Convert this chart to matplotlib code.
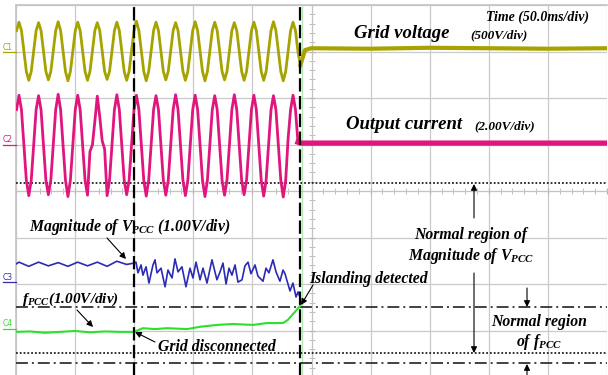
import numpy as np
import matplotlib.pyplot as plt
from matplotlib.lines import Line2D
from matplotlib.ticker import MultipleLocator

plt.rcParams['mathtext.fontset'] = 'custom'
for k in ('rm', 'it', 'bf'):
    plt.rcParams['mathtext.' + k] = 'Liberation Serif:bold:italic'

# screen: 10 div x 50 ms/div, 8 vertical div; trace values are in screen divisions
t_start, t_step = 0.47, 2.07   # ms, sample spacing of C1/C2 before islanding

# C1 grid voltage (500V/div)
grid_v = [
    3.45,
    3.63, 3.45, 3.01, 2.57, 2.38, 2.57, 3.01, 3.45,
    3.62, 3.45, 3.01, 2.57, 2.39, 2.57, 3.01, 3.45,
    3.64, 3.45, 3.01, 2.57, 2.37, 2.57, 3.01, 3.45,
    3.63, 3.45, 3.01, 2.57, 2.38, 2.57, 3.01, 3.45,
    3.62, 3.45, 3.01, 2.57, 2.40, 2.57, 3.01, 3.45,
    3.63, 3.45, 3.01, 2.57, 2.38, 2.57, 3.01, 3.45,
    3.65, 3.45, 3.01, 2.57, 2.37, 2.57, 3.01, 3.45,
    3.63, 3.45, 3.01, 2.57, 2.39, 2.57, 3.01, 3.45,
    3.62, 3.45, 3.01, 2.57, 2.38, 2.57, 3.01, 3.45,
    3.64, 3.45, 3.01, 2.57, 2.37, 2.57, 3.01, 3.45,
    3.63, 3.45, 3.01, 2.57, 2.39, 2.57, 3.01, 3.45,
    3.62, 3.45, 3.01, 2.57, 2.38, 2.57, 3.01, 3.45,
    3.63, 3.45, 3.01, 2.57, 2.38, 2.57, 3.01, 3.45,
    3.64, 3.45, 3.01, 2.57, 2.37, 2.57, 3.01, 3.45,
    3.63, 3.45, 3.00, 2.71,
]
grid_v_after_t = [244.5, 249.6, 300, 350, 400, 450, 500]
grid_v_after = [3.03, 3.07, 3.06, 3.08, 3.07, 3.06, 3.07]

# C2 output current (2.00V/div)
out_i = [
    1.75,
    2.06, 1.75, 0.99, 0.23, -0.10, 0.23, 0.99, 1.75,
    2.05, 1.75, 0.99, 0.23, -0.08, 0.23, 0.99, 1.75,
    2.08, 1.75, 0.99, 0.23, -0.12, 0.23, 0.99, 1.75,
    2.06, 1.75, 0.99, 0.23, -0.09, 0.85, 0.99, 1.50,
    2.04, 1.60, 1.08, 0.90, -0.10, 0.23, 0.99, 1.75,
    2.07, 1.75, 0.99, 0.23, -0.08, 0.23, 0.99, 1.75,
    2.06, 1.75, 0.99, 0.23, -0.11, 0.23, 0.99, 1.75,
    2.05, 1.75, 0.99, 0.23, -0.09, 0.23, 0.99, 1.75,
    2.07, 1.75, 0.99, 0.23, -0.10, 0.23, 0.99, 1.75,
    2.06, 1.75, 0.99, 0.23, -0.12, 0.23, 0.99, 1.75,
    2.05, 1.75, 0.99, 0.23, -0.09, 0.23, 0.99, 1.75,
    2.07, 1.75, 0.99, 0.23, -0.08, 0.23, 0.99, 1.75,
    2.06, 1.75, 0.99, 0.23, -0.11, 0.23, 0.99, 1.75,
    2.05, 1.75, 0.99, 0.23, -0.13, 0.23, 1.14, 1.75,
    2.06, 1.75, 1.05,
]
out_i_after_t = [240.6, 500]
out_i_after = [1.03, 1.03]

# C3 magnitude of Vpcc (1.00V/div)
vpcc_t = [0, 2.5, 10.8, 19.1, 27.4, 35.7, 43.9, 52.2, 60.5, 68.8, 77.1, 85.3, 93.6, 99.8,
          101.5, 103.2, 105.8, 107.4, 110.0, 112.5, 115.9, 117.6, 119.3, 122.7, 126.1,
          128.6, 132.0, 134.5, 137.1, 140.4, 143.8, 147.2, 149.7, 152.3, 155.7, 158.2,
          161.6, 165.8, 170.0, 172.6, 175.1, 177.7, 180.2, 182.7, 185.3, 187.8, 191.2,
          193.7, 196.3, 198.8, 202.2, 204.7, 209.0, 211.5, 214.0, 217.4, 220.0, 223.3,
          225.9, 227.6, 230.1, 231.8, 234.3, 236.9, 238.6, 240.3]
vpcc = [-1.57, -1.53, -1.62, -1.53, -1.61, -1.54, -1.62, -1.53, -1.61, -1.53, -1.62,
        -1.51, -1.58, -1.55,
        -1.53, -1.76, -1.59, -1.81, -1.63, -1.98, -1.59, -1.48, -1.76, -1.66, -2.06,
        -1.70, -1.87, -1.46, -1.74, -1.63, -2.06, -1.66, -1.87, -1.53, -1.91, -1.66,
        -1.98, -1.48, -1.91, -1.74, -1.55, -2.00, -1.66, -1.81, -1.59, -1.96, -1.91,
        -1.61, -1.53, -1.78, -1.59, -1.83, -1.94, -1.66, -1.76, -1.48, -1.74, -1.94,
        -1.70, -1.78, -2.00, -2.15, -1.98, -2.28, -2.17, -2.28]

# C4 fpcc (1.00V/div)
fpcc_t = [0, 11.8, 24.5, 37.2, 49.9, 62.6, 75.3, 88.0, 99.8, 107.4, 117.6, 127.7,
          144.7, 155.7, 170.0, 183.6, 200.5, 212.3, 225.9, 230.1, 233.5, 236.0,
          238.6, 240.3]
fpcc = [-3.03, -3.02, -3.05, -3.03, -3.01, -3.04, -3.02, -3.03, -3.03, -2.95, -2.97,
        -2.95, -2.97, -2.92, -2.88, -2.86, -2.88, -2.84, -2.84, -2.77, -2.67, -2.60,
        -2.52, -2.47]

t_disconnect = 99.8
t_island = 240.3
t_cursor = 241.7
dotted_levels = [0.17, -3.49]
dashdot_levels = [-2.49, -3.69]

c1, c2, c3, c4 = '#a6a300', '#e0157d', '#2b2bb5', '#2ee02e'
font = dict(family='Liberation Serif', weight='bold', style='italic')

fig = plt.figure(figsize=(6.08, 3.75), dpi=100)
ax = fig.add_axes([16 / 608, -2 / 375, 591 / 608, 372 / 375])
ax.set_xlim(0, 500)
ax.set_ylim(-4, 4)

# scope graticule
ax.xaxis.set_major_locator(MultipleLocator(50))
ax.yaxis.set_major_locator(MultipleLocator(1))
ax.xaxis.set_minor_locator(MultipleLocator(10))
ax.yaxis.set_minor_locator(MultipleLocator(0.2))
ax.grid(True, which='major', color='#cacaca', lw=0.9)
ax.set_axisbelow(True)
ax.spines['left'].set_position(('data', 250))
ax.spines['bottom'].set_position(('data', 0))
for s in ('top', 'right'):
    ax.spines[s].set_visible(False)
for s in ('left', 'bottom'):
    ax.spines[s].set_color('#c4c4c4')
ax.tick_params(which='both', direction='inout', length=5, colors='#b4b4b4',
               labelleft=False, labelbottom=False)
ax.axvline(0, color='#c4c4c4', lw=1.2, clip_on=False)
ax.axhline(4, color='#c4c4c4', lw=1.2, clip_on=False)

# reference lines
ax.axvline(t_cursor, color='#b5e6b5', lw=1)
for y in dotted_levels:
    ax.axhline(y, color='#222222', lw=1.3, ls=(0, (1, 1.1)), zorder=3)
for y in dashdot_levels:
    ax.axhline(y, color='#333333', lw=1.3, ls=(0, (6.6, 2.2, 1.1, 2.2)), zorder=3)

# traces
t_sine = t_start + t_step * np.arange(len(grid_v))
ax.plot(t_sine, grid_v, color=c1, lw=2.0, zorder=4)
ax.plot([t_sine[-1]] + grid_v_after_t, [grid_v[-1]] + grid_v_after, color=c1, lw=3.0, zorder=4)
t_cur = t_start + t_step * np.arange(len(out_i))
ax.plot(t_cur, out_i, color=c2, lw=2.0, zorder=4)
ax.plot([t_cur[-1]] + out_i_after_t, [out_i[-1]] + out_i_after, color=c2, lw=3.8, zorder=4)
ax.plot(vpcc_t, vpcc, color=c3, lw=1.2, zorder=4)
ax.plot(fpcc_t, fpcc, color=c4, lw=1.5, zorder=4)

for t in (t_disconnect, t_island):
    ax.axvline(t, color='k', lw=1.6, ls=(0, (6, 2)), zorder=5)

# channel markers on the left edge
for name, col, y_txt, y_line in [('C1', c1, 47, 52), ('C2', c2, 140, 145),
                                  ('C3', c3, 277, 282), ('C4', c4, 324, 329)]:
    fig.text(8 / 608, 1 - y_txt / 375, name, color=col, fontsize=5.5,
             ha='center', va='center')
    fig.add_artist(Line2D([3 / 608, 16 / 608], [1 - y_line / 375] * 2, color=col, lw=0.9))


def fp(x, y):
    return (x / 608, 1 - y / 375)


labels = [
    (538, 17, 'Time (50.0ms/div)', 10),
    (402, 33, 'Grid voltage', 13.5),
    (499, 35, '(500V/div)', 9.5),
    (404, 125, 'Output current', 13.5),
    (505, 126, '(2.00V/div)', 9.5),
    (130, 227, r'Magnitude of $V_{PCC}$ (1.00V/div)', 11.3),
    (71, 299, r'$f_{PCC}$(1.00V/div)', 11),
    (217, 347, 'Grid disconnected', 11.3),
    (368, 279, 'Islanding detected', 11.3),
    (471, 235, 'Normal region of', 11.3),
    (471, 256, r'Magnitude of $V_{PCC}$', 11.3),
    (539, 322, 'Normal region', 11.3),
    (539, 342, r'of $f_{PCC}$', 11.3),
]
for x, y, s, size in labels:
    fig.text(*fp(x, y), s, fontsize=size, ha='center', va='center', zorder=6, **font)

arrows = [
    ((107, 238), (126, 259)),
    ((77, 310), (93, 327)),
    ((155, 342), (135, 332)),
    ((313, 285), (301, 305)),
    ((474, 218), (474, 184)),
    ((474, 273), (474, 353)),
    ((527, 288), (527, 307)),
    ((527, 378), (527, 364)),
]
for start, end in arrows:
    ax.annotate('', xy=fp(*end), xytext=fp(*start), xycoords='figure fraction',
                textcoords='figure fraction', annotation_clip=False,
                arrowprops=dict(arrowstyle='-|>', color='k', lw=0.8,
                                mutation_scale=9, shrinkA=0, shrinkB=0))

fig.savefig('out.png', dpi=100)
